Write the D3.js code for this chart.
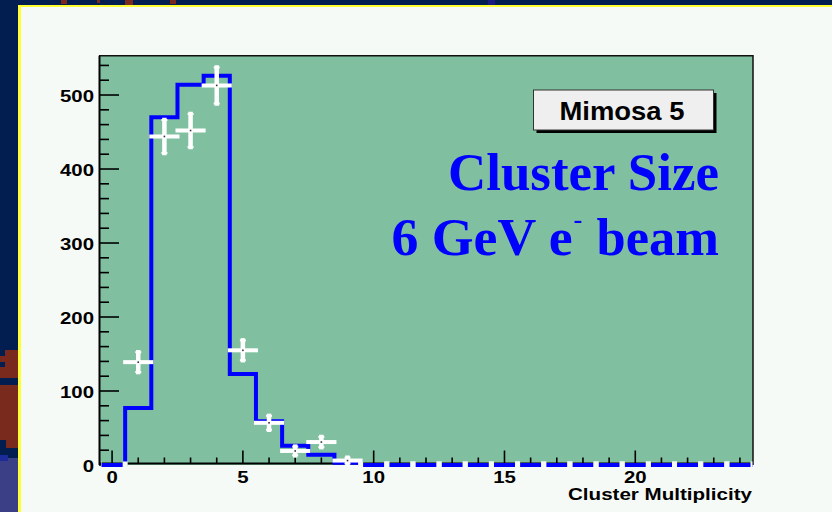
<!DOCTYPE html>
<html>
<head>
<meta charset="utf-8">
<script src="https://cdn.jsdelivr.net/npm/d3@7"></script>
<style>
  html, body { margin: 0; padding: 0; background: #021d4f; }
  svg { display: block; }
</style>
</head>
<body>
<svg id="chart" width="832" height="512"></svg>
<script>
// ---- data ----
const binCenters = [0,1,2,3,4,5,6,7,8,9,10,11,12,13,14,15,16,17,18,19,20,21,22,23,24];
const mcCounts   = [0,77,470,514,526,123,59,26,14,3,0,0,0,0,0,0,0,0,0,0,0,0,0,0,0];
const dataCounts = [0,139,444,452,513,155,57,19,31,6,0,0,0,0,0,0,0,0,0,0,0,0,0,0,0];
const dataErrors = [0,12,21,21,23,12,8,4.5,5.5,2.5,0,0,0,0,0,0,0,0,0,0,0,0,0,0,0];
const xTickLabels = [0,5,10,15,20];
const yTickLabels = [0,100,200,300,400,500];
const xTitle = "Cluster Multiplicity";
const boxLabel = "Mimosa 5";
const titleLine1 = "Cluster Size";
const titleLine2a = "6 GeV e";
const titleLine2sup = "-";
const titleLine2b = "beam";

const svg = d3.select("#chart");

// ---- slide background ----
svg.append("rect").attr("x",0).attr("y",0).attr("width",832).attr("height",512).attr("fill","#021d4f");
const red = "#7a2a1c";
[[5,350,13,8],[0,356,18,22],[0,385,18,63],[61,0,6,4],[97,0,3,3],[125,0,8,5],[170,0,6,4]].forEach(r=>{
  svg.append("rect").attr("x",r[0]).attr("y",r[1]).attr("width",r[2]).attr("height",r[3]).attr("fill",red);
});
[[0,362,5,5],[0,378,13,7],[0,440,6,8]].forEach(r=>{
  svg.append("rect").attr("x",r[0]).attr("y",r[1]).attr("width",r[2]).attr("height",r[3]).attr("fill","#021d4f");
});
svg.append("rect").attr("x",0).attr("y",458).attr("width",18).attr("height",54).attr("fill","#3b3f85");
svg.append("rect").attr("x",0).attr("y",455).attr("width",8).attr("height",6).attr("fill","#1c2a9a");
svg.append("rect").attr("x",488).attr("y",0).attr("width",7).attr("height",5).attr("fill","#1a1a80");

// yellow border + white panel
svg.append("rect").attr("x",18).attr("y",5).attr("width",814).attr("height",507).attr("fill","#ffff33");
svg.append("rect").attr("x",21).attr("y",7).attr("width",811).attr("height",505).attr("fill","#f6faf6");

// ---- plot frame ----
const fx0 = 99, fx1 = 753, fy0 = 55.8, fy1 = 465;
const x = d3.scaleLinear().domain([-0.5, 24.5]).range([fx0, fx1]);
const y = d3.scaleLinear().domain([0, 553]).range([fy1, fy0]);

svg.append("rect").attr("x",fx0).attr("y",fy0).attr("width",fx1-fx0).attr("height",fy1-fy0)
  .attr("fill","#80c0a0");
svg.append("path").attr("d",`M${fx0},${fy0}H${fx1}V${fy1}`).attr("fill","none")
  .attr("stroke","#111").attr("stroke-width",1.5);

// y axis
const yAxisG = svg.append("g");
yAxisG.append("line").attr("x1",fx0+0.5).attr("x2",fx0+0.5).attr("y1",fy0).attr("y2",fy1)
  .attr("stroke","#000").attr("stroke-width",2);
d3.range(0, 541, 20).forEach(v => {
  const major = v % 100 === 0;
  yAxisG.append("line").attr("x1",fx0).attr("x2",fx0 + (major ? 20 : 10))
    .attr("y1",y(v)).attr("y2",y(v)).attr("stroke","#000").attr("stroke-width",1.6);
});
yTickLabels.forEach(v => {
  yAxisG.append("text")
    .attr("transform",`translate(94,${y(v)+6.5}) scale(1.2,1)`)
    .attr("text-anchor","end")
    .attr("font-family","Liberation Sans, Arial, sans-serif").attr("font-weight","bold")
    .attr("font-size",17).attr("fill","#000").text(v);
});

// x axis
const axisY = 463.5;
const xAxisG = svg.append("g");
xAxisG.append("line").attr("x1",fx0).attr("x2",fx1).attr("y1",axisY).attr("y2",axisY)
  .attr("stroke","#000").attr("stroke-width",2);
binCenters.forEach(v => {
  const major = v % 5 === 0;
  xAxisG.append("line").attr("x1",x(v)).attr("x2",x(v))
    .attr("y1",axisY).attr("y2",axisY - (major ? 13 : 6))
    .attr("stroke","#000").attr("stroke-width",1.6);
});
xTickLabels.forEach(v => {
  xAxisG.append("text")
    .attr("transform",`translate(${x(v)},483) scale(1.2,1)`)
    .attr("text-anchor","middle")
    .attr("font-family","Liberation Sans, Arial, sans-serif").attr("font-weight","bold")
    .attr("font-size",17).attr("fill","#000").text(v);
});
svg.append("text").attr("x",752).attr("y",500).attr("text-anchor","end")
  .attr("font-family","Liberation Sans, Arial, sans-serif").attr("font-weight","bold")
  .attr("font-size",17).attr("textLength",184).attr("lengthAdjust","spacingAndGlyphs")
  .attr("fill","#000").text(xTitle);

// clip for histogram
svg.append("clipPath").attr("id","plotclip").append("rect")
  .attr("x",fx0+2).attr("y",fy0).attr("width",fx1-fx0-2.5).attr("height",fy1-fy0+10);

// ---- MC histogram (blue step) ----
const stepPts = binCenters.map((c,i) => [c-0.5, mcCounts[i]]);
stepPts.push([binCenters[binCenters.length-1]+0.5, mcCounts[mcCounts.length-1]]);
const stepLine = d3.line().x(d=>x(d[0])).y(d=>y(d[1])).curve(d3.curveStepAfter);
svg.append("path").attr("d",stepLine(stepPts)).attr("fill","none")
  .attr("stroke","#0000ff").attr("stroke-width",4).attr("clip-path","url(#plotclip)");

// ---- data points (white error bars) ----
const dataG = svg.append("g").attr("clip-path","url(#plotclip)");
binCenters.forEach((c,i) => {
  const v = dataCounts[i], e = dataErrors[i];
  if (v > 0) {
    const xl = x(c-0.5) - 2, xr = x(c+0.5) + 2;
    dataG.append("line").attr("x1",xl).attr("x2",xr).attr("y1",y(v)).attr("y2",y(v))
      .attr("stroke","#fff").attr("stroke-width",4);
    dataG.append("line").attr("x1",x(c)).attr("x2",x(c)).attr("y1",y(v-e)+1).attr("y2",y(v+e)-1)
      .attr("stroke","#fff").attr("stroke-width",4.5).attr("stroke-linecap","square");
    [y(v-e)+1, y(v+e)-1].forEach(yy => {
      dataG.append("line").attr("x1",x(c)-3).attr("x2",x(c)+3).attr("y1",yy).attr("y2",yy)
        .attr("stroke","#fff").attr("stroke-width",2);
    });
    dataG.append("rect").attr("x",x(c)-0.8).attr("y",y(v)-0.8).attr("width",1.6).attr("height",1.6)
      .attr("fill","#333");
  } else {
    [c-0.5, c+0.5].forEach(edge => {
      dataG.append("rect").attr("x",x(edge)-2.5).attr("y",y(0)-3.5).attr("width",5).attr("height",7)
        .attr("fill","#f6faf6");
    });
  }
});

// ---- Mimosa 5 box ----
svg.append("rect").attr("x",536.5).attr("y",93).attr("width",180).attr("height",40).attr("fill","#000");
svg.append("rect").attr("x",533.5).attr("y",90).attr("width",180).attr("height",40)
  .attr("fill","#efefef").attr("stroke","#333").attr("stroke-width",1);
svg.append("text").attr("x",622).attr("y",120).attr("text-anchor","middle")
  .attr("font-family","Liberation Sans, Arial, sans-serif").attr("font-weight","bold")
  .attr("font-size",25).attr("textLength",125).attr("lengthAdjust","spacingAndGlyphs")
  .attr("fill","#000").text(boxLabel);

// ---- blue titles ----
const serif = "Liberation Serif, Times New Roman, serif";
svg.append("text").attr("x",719).attr("y",190).attr("text-anchor","end")
  .attr("font-family",serif).attr("font-weight","bold").attr("font-size",53)
  .attr("textLength",271).attr("lengthAdjust","spacingAndGlyphs")
  .attr("fill","#0000ff").text(titleLine1);
svg.append("text").attr("x",391.5).attr("y",255).attr("text-anchor","start")
  .attr("font-family",serif).attr("font-weight","bold").attr("font-size",53)
  .attr("textLength",181).attr("lengthAdjust","spacingAndGlyphs")
  .attr("fill","#0000ff").text(titleLine2a);
svg.append("text").attr("x",573.5).attr("y",227.5).attr("text-anchor","start")
  .attr("font-family",serif).attr("font-weight","bold").attr("font-size",26)
  .attr("fill","#0000ff").text(titleLine2sup);
svg.append("text").attr("x",719).attr("y",255).attr("text-anchor","end")
  .attr("font-family",serif).attr("font-weight","bold").attr("font-size",53)
  .attr("textLength",122.5).attr("lengthAdjust","spacingAndGlyphs")
  .attr("fill","#0000ff").text(titleLine2b);
</script>
</body>
</html>
